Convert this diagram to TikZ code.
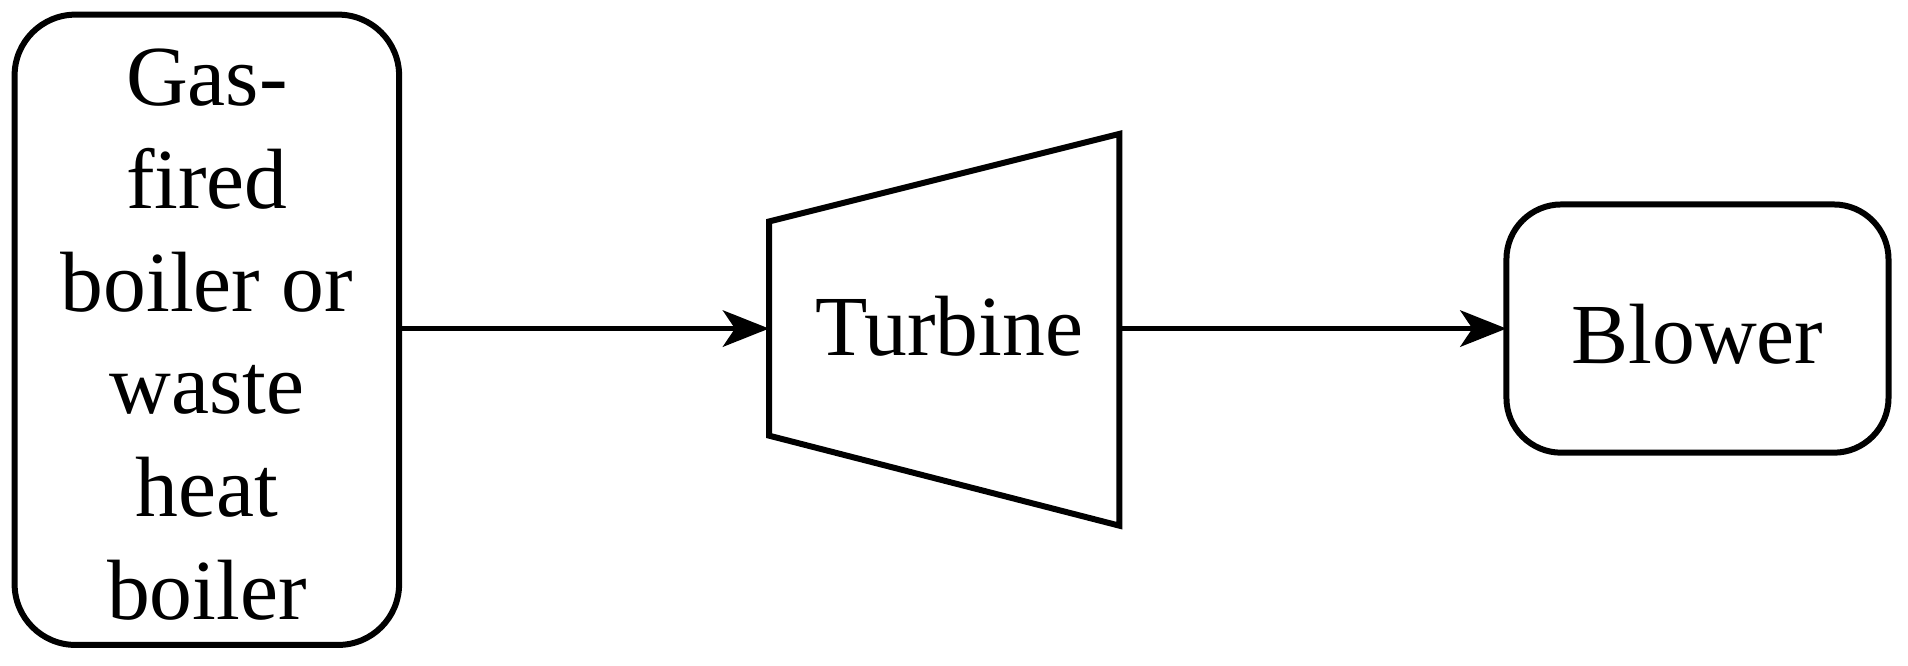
\documentclass[tikz,border=0pt]{standalone}
\usepackage{fontspec}
\setmainfont{Liberation Serif}
\usetikzlibrary{arrows.meta}
\begin{document}
\begin{tikzpicture}[x=0.01cm,y=-0.01cm,
  box/.style={draw,line width=1.4pt,rounded corners=0.45cm},
  lbl/.style={font=\fontsize{20}{24}\selectfont,align=center},
  conn/.style={line width=1pt,-{Stealth[length=0.38cm,width=0.3cm,inset=0.1cm]}}]
\useasboundingbox (0,0) rectangle (1568,547);
\draw[box,rounded corners=0.5cm] (12,12) rectangle (328,530);
\node[lbl] (boiler) at (170,275) {Gas-\\fired\\boiler or\\waste\\heat\\boiler};
\draw[line width=1.4pt] (632,182) -- (920,110) -- (920,432) -- (632,358) -- cycle;
\node[lbl] (turb) at (780,268) {Turbine};
\draw[box] (1238,168) rectangle (1552,372);
\node[lbl] (blow) at (1395,275) {Blower};
\coordinate (a1) at (326,270);
\coordinate (a2) at (632,270);
\coordinate (b1) at (920,270);
\coordinate (b2) at (1238,270);
\draw[conn] (a1) -- (a2);
\draw[conn] (b1) -- (b2);
\end{tikzpicture}
\end{document}
